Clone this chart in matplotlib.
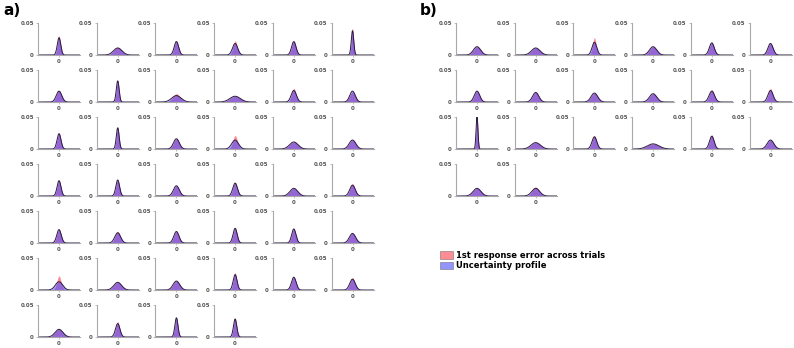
import numpy as np
import matplotlib
matplotlib.use('Agg')
import matplotlib.pyplot as plt
from matplotlib.patches import Patch

# peak heights (red = 1st response error, blue = uncertainty profile)
red_a = [0.030, 0.012, 0.022, 0.022, 0.022, 0.042,
         0.018, 0.034, 0.013, 0.009, 0.021, 0.015,
         0.025, 0.035, 0.016, 0.021, 0.011, 0.014,
         0.024, 0.025, 0.016, 0.022, 0.012, 0.019,
         0.021, 0.018, 0.018, 0.023, 0.022, 0.015,
         0.022, 0.012, 0.014, 0.027, 0.020, 0.019,
         0.012, 0.024, 0.030, 0.030]
blue_a = [0.027, 0.011, 0.021, 0.018, 0.021, 0.038,
          0.017, 0.033, 0.010, 0.009, 0.018, 0.017,
          0.024, 0.033, 0.016, 0.014, 0.011, 0.014,
          0.024, 0.025, 0.016, 0.020, 0.012, 0.017,
          0.021, 0.016, 0.018, 0.023, 0.022, 0.015,
          0.013, 0.012, 0.014, 0.024, 0.020, 0.017,
          0.012, 0.021, 0.030, 0.028]
red_b = [0.013, 0.011, 0.027, 0.013, 0.019, 0.018,
         0.017, 0.015, 0.014, 0.013, 0.019, 0.021,
         0.050, 0.010, 0.021, 0.008, 0.022, 0.014,
         0.012, 0.014]
blue_b = [0.013, 0.011, 0.020, 0.013, 0.019, 0.018,
          0.017, 0.015, 0.014, 0.013, 0.017, 0.018,
          0.050, 0.010, 0.019, 0.008, 0.020, 0.014,
          0.012, 0.012]
labels = ['1st response error across trials', 'Uncertainty profile']

red = (1.0, 0.25, 0.3)
blue = (0.3, 0.3, 1.0)

W, H = 794, 348
fig = plt.figure(figsize=(W / 100, H / 100), dpi=100)
x = np.linspace(-180, 180, 361)


def density(peak):
    # normal density with the given peak height (area 1 over the error axis)
    return peak * np.exp(-np.pi * peak ** 2 * x ** 2)


def panel(x0, reds, blues):
    for i in range(len(reds)):
        r, c = divmod(i, 6)
        left = x0 + c * 58.7
        top = 23 + r * 47
        ax = fig.add_axes([left / W, 1 - (top + 32) / H, 42 / W, 32 / H])
        ax.fill_between(x, density(reds[i]), color=red, alpha=0.6, lw=0)
        ax.fill_between(x, density(blues[i]), color=blue, alpha=0.6, lw=0)
        ax.plot(x, density(blues[i]), color='#2a1a40', lw=0.7)
        ax.set_xlim(-180, 180)
        ax.set_ylim(0, 0.05)
        ax.set_xticks([0])
        ax.set_yticks([0, 0.05])
        ax.set_xticklabels(['0'])
        ax.set_yticklabels(['0', '0.05'])
        for s in ['top', 'right']:
            ax.spines[s].set_visible(False)
        for s in ['left', 'bottom']:
            ax.spines[s].set_color('#a8a8a8')
            ax.spines[s].set_linewidth(0.8)
        ax.tick_params(length=1.5, width=0.5, color='#a8a8a8', pad=1.5,
                       labelsize=4, labelcolor='#555555')
        for t in ax.get_xticklabels() + ax.get_yticklabels():
            t.set_fontweight('bold')


panel(38, red_a, blue_a)
panel(456, red_b, blue_b)

fig.text(3 / W, 1 - 15 / H, 'a)', fontsize=11, fontweight='bold')
fig.text(420 / W, 1 - 15 / H, 'b)', fontsize=11, fontweight='bold')

handles = [Patch(facecolor=red, alpha=0.6, edgecolor='#666666', lw=0.6),
           Patch(facecolor=blue, alpha=0.6, edgecolor='#666666', lw=0.6)]
fig.legend(handles, labels, loc='upper left', bbox_to_anchor=(440 / W, 1 - 251 / H),
           frameon=False, prop={'size': 6, 'weight': 'bold'},
           handlelength=1.6, handleheight=1.0, handletextpad=0.3,
           labelspacing=0.15, borderpad=0, borderaxespad=0)

fig.savefig('out.png', dpi=100)
